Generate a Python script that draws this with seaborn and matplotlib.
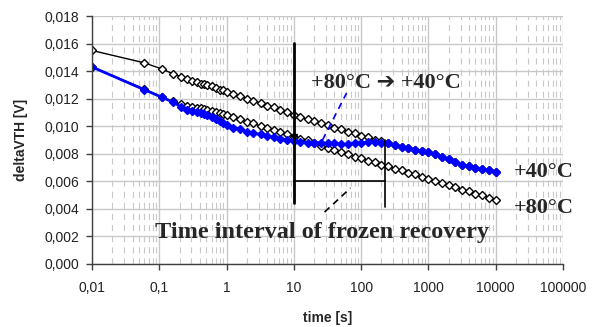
import matplotlib
matplotlib.use("Agg")
import matplotlib.pyplot as plt
from matplotlib.ticker import LogLocator, NullFormatter
import pandas as pd
import seaborn as sns

# measurement times [s]
time_s = [0.01, 0.06, 0.11, 0.16, 0.21, 0.26, 0.31, 0.36, 0.41, 0.46, 0.51, 0.6, 0.7, 0.8, 0.9,
          1.0, 1.25, 1.6, 2.0, 2.5, 3.2, 4.0, 5.0, 6.3, 8.0,
          10, 12.5, 16, 20, 25, 32, 40, 50, 63, 80,
          100, 125, 160, 200, 250, 320, 400, 500, 630, 800,
          1000, 1250, 1600, 2000, 2500, 3200, 4000, 5000, 6300, 8000, 10000]

# +40°C reference (upper black curve)
dvth_40 = [0.0155, 0.0146, 0.01415, 0.0138, 0.0136, 0.01345, 0.0133, 0.0132, 0.0131, 0.01305, 0.0130, 0.0129, 0.0128, 0.01265, 0.0126,
           0.0125, 0.01235, 0.0122, 0.0120, 0.01185, 0.0117, 0.0115, 0.0114, 0.0112, 0.0110,
           0.0108, 0.01065, 0.0105, 0.0104, 0.0102, 0.0101, 0.0099, 0.0098, 0.0096, 0.0095,
           0.0093, 0.0092, 0.0090, 0.0089, 0.0088, 0.00865, 0.0085, 0.0084, 0.0083, 0.0082,
           0.0081, 0.00795, 0.0078, 0.0076, 0.0074, 0.0072, 0.0071, 0.0070, 0.0069, 0.0068, 0.0067]

# +80°C (lower black curve)
dvth_80 = [0.0143, 0.0127, 0.0121, 0.0118, 0.0116, 0.0115, 0.0114, 0.01135, 0.0113, 0.01125, 0.0112, 0.0111, 0.0110, 0.01095, 0.0109,
           0.0108, 0.01065, 0.0105, 0.0103, 0.0102, 0.0100, 0.0099, 0.0097, 0.0096, 0.0094,
           0.0092, 0.0091, 0.0090, 0.00875, 0.0086, 0.0084, 0.0083, 0.0081, 0.0080, 0.0078,
           0.0077, 0.0075, 0.0074, 0.0072, 0.0071, 0.0069, 0.0068, 0.0066, 0.0065, 0.0063,
           0.0062, 0.0060, 0.0059, 0.0057, 0.0056, 0.0054, 0.0053, 0.0051, 0.0050, 0.0048, 0.00465]

# +80°C -> +40°C switch (blue curve)
dvth_switch = [0.0143, 0.01265, 0.0121, 0.01175, 0.0114, 0.0112, 0.0111, 0.0110, 0.01095, 0.0109, 0.0108, 0.0107, 0.0105, 0.0104, 0.0102,
               0.0101, 0.0099, 0.0098, 0.0096, 0.0095, 0.0094, 0.0093, 0.0092, 0.0091, 0.0090,
               0.0089, 0.00885, 0.0088, 0.0088, 0.0088, 0.00875, 0.00875, 0.0087, 0.0087, 0.00875,
               0.0088, 0.00885, 0.00885, 0.0088, 0.00875, 0.00865, 0.0085, 0.0084, 0.0083, 0.0082,
               0.0081, 0.00795, 0.0078, 0.0076, 0.0074, 0.0072, 0.0071, 0.0070, 0.0069, 0.0068, 0.0067]

x_ticks = [0.01, 0.1, 1, 10, 100, 1000, 10000, 100000]
x_labels = ["0,01", "0,1", "1", "10", "100", "1000", "10000", "100000"]
y_ticks = [0.000, 0.002, 0.004, 0.006, 0.008, 0.010, 0.012, 0.014, 0.016, 0.018]
y_labels = ["0,000", "0,002", "0,004", "0,006", "0,008", "0,010", "0,012", "0,014", "0,016", "0,018"]

sns.set_theme(style="white")
plt.rcParams["font.family"] = ["Liberation Sans", "DejaVu Sans"]

df = pd.DataFrame({"time": time_s, "t40": dvth_40, "t80": dvth_80, "sw": dvth_switch})

fig = plt.figure(figsize=(6.03, 3.27), dpi=100)
ax = fig.add_axes([0.1526, 0.1927, 0.781, 0.7583])
ax.set_xscale("log")

grid = "#c8c8c8"
ax.grid(True, which="major", color=grid, lw=1.0)
ax.xaxis.set_minor_locator(LogLocator(base=10, subs=range(2, 10), numticks=20))
ax.xaxis.set_minor_formatter(NullFormatter())
ax.grid(True, which="minor", axis="x", color=grid, lw=0.8, linestyle=(0, (5.5, 4.5)))
ax.set_axisbelow(True)

common = dict(estimator=None, sort=False, ax=ax, marker="D", markersize=3.9,
              markeredgewidth=1.0, legend=False)
sns.lineplot(data=df, x="time", y="t40", color="black", lw=1.0,
             markerfacecolor="white", markeredgecolor="black", **common)
sns.lineplot(data=df, x="time", y="t80", color="black", lw=1.0,
             markerfacecolor="white", markeredgecolor="black", **common)
sns.lineplot(data=df, x="time", y="sw", color="#0000ff", lw=2.0,
             markerfacecolor="#0000ff", markeredgecolor="#0000ff", **common)

# annotations: frozen-recovery interval
ax.plot([10, 10], [0.00443, 0.01605], color="black", lw=2)
ax.plot([10], [0.0092], marker="v", color="black", markersize=5)
ax.plot([230, 230], [0.00414, 0.0090], color="black", lw=1.2)
ax.plot([10, 230], [0.00602, 0.00602], color="black", lw=1.2)
ax.plot([28.6, 69.7], [0.00377, 0.00552], color="black", lw=1.2, linestyle=(0, (4, 3)))
ax.plot([26.7, 60.7], [0.0090, 0.01241], color="#0000ff", lw=1.2, linestyle=(0, (4, 3)))

serif = ["Liberation Serif", "DejaVu Sans"]
ax.text(17.7, 0.01316, "+80°C \u2794 +40°C", family=serif, fontsize=16, fontweight="bold",
        va="center", ha="left")
ax.text(0.085, 0.00225, "Time interval of frozen recovery", family=serif, fontsize=17.5,
        fontweight="bold", va="center", ha="left")
ax.text(18900, 0.00668, "+40°C", family=serif, fontsize=16, fontweight="bold", va="center", ha="left")
ax.text(18900, 0.00405, "+80°C", family=serif, fontsize=16, fontweight="bold", va="center", ha="left")

ax.set_xlim(0.01, 100000)
ax.set_ylim(0, 0.018)
ax.set_xticks(x_ticks, x_labels)
ax.set_yticks(y_ticks, y_labels)
ax.tick_params(axis="both", which="major", direction="out", length=4, width=1, color="#404040",
               labelsize=10, labelcolor="#222222", bottom=True, left=True)
ax.tick_params(axis="x", which="major", pad=8)
ax.tick_params(axis="y", which="major", pad=5)
ax.tick_params(axis="x", which="minor", length=0)

for side in ["top", "right"]:
    ax.spines[side].set_visible(False)
for side in ["left", "bottom"]:
    ax.spines[side].set_color("#404040")
    ax.spines[side].set_linewidth(1)

ax.set_xlabel("time [s]", fontsize=10, fontweight="bold", labelpad=12)
ax.set_ylabel("deltaVTH [V]", fontsize=10, fontweight="bold", labelpad=12)

fig.savefig("out.png", dpi=100)
